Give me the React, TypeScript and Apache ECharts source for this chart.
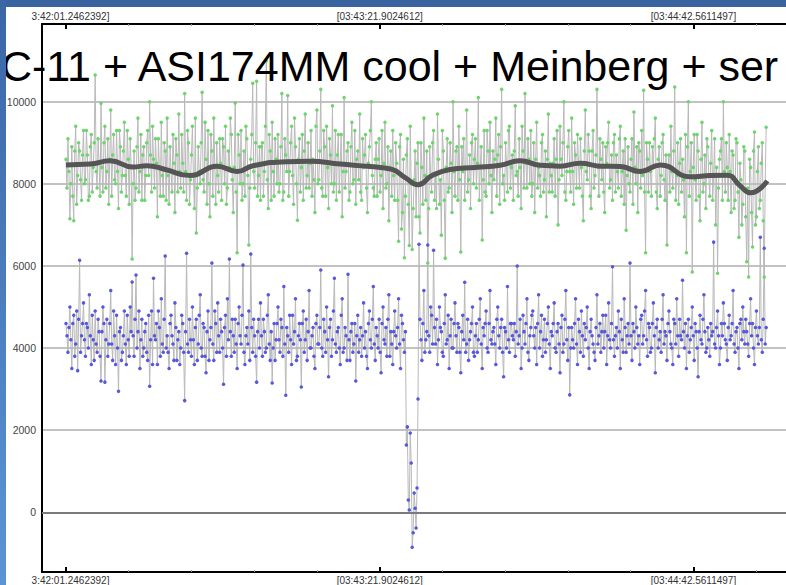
import React, { useEffect, useRef } from "react";
import * as echarts from "echarts";

// seconds between successive frames; t = 0 is 03:42:01.2462392
const DT = 0.25;

const TIME_LABELS = ["3:42:01.2462392]", "[03:43:21.9024612]", "[03:44:42.5611497]"];
const MAJOR_TICKS = [0, 80.6562, 161.3149];
const MINOR_TICKS = [16.1312, 32.2625, 48.3937, 64.525, 96.7875, 112.9187, 129.05, 145.1812, 177.4437];
const Y_TICKS = [0, 2000, 4000, 6000, 8000, 10000];

const TITLE = "C-11 + ASI174MM cool + Meinberg + ser";

// comparison (upper, green) star
const greenValues = [
  8600,7900, 9100,8300, 7150,8000, 8900,7700, 7100,8800, 9400,7500, 8200,9000, 8800,8100, 7600,8700, 9300,8000,
  8100,9300, 8700,7600, 7700,8900, 9200,7800, 8400,9000, 10650,8300, 7900,9100, 8500,7700, 9960,8400, 7800,9000,
  9400,7900, 8300,9100, 7500,8600, 9800,7700, 8700,9200, 8100,8000, 9300,8300, 7400,9300, 8900,7800, 8200,8800,
  9500,8200, 7700,9300, 8600,7500, 9100,8400, 6170,8000, 8800,7600, 7900,8900, 9600,7800, 8300,9200, 7600,8700,
  8900,7600, 8200,9000, 9300,8200, 10000,8700, 7800,9400, 8600,7900, 9100,8500, 7200,9100, 8400,7700, 9500,8200,
  7700,9000, 8800,7600, 9600,8200, 7500,8900, 8300,7800, 9200,8500, 7300,9100, 8700,7800, 9700,8300, 7900,9200,
  8500,7800, 10200,8300, 7600,9300, 9000,7500, 8100,8700, 9400,8200, 7400,9600, 6800,7900, 8900,8300, 8000,9000,
  10230,8100, 7800,9500, 8600,7500, 9300,8000, 7200,9200, 8800,7700, 9600,8400, 7500,9000, 8200,7800, 9100,8500,
  7600,9100, 8900,8000, 9400,7500, 7900,8800, 8400,9600, 9200,8100, 7300,8400, 9970,7800, 6320,9200, 8700,8000,
  9300,7600, 8000,8800, 7700,9400, 9100,8200, 6510,7900, 8600,9200, 10450,8300, 7900,9000, 10500,7700, 8200,8900,
  7600,8900, 9000,7700, 8300,9400, 11000,8100, 7400,9200, 8800,7600, 9500,8300, 7700,9100, 8600,8000, 9200,7800,
  8000,8900, 10200,7600, 7800,9100, 8700,8300, 10150,7700, 8300,9000, 9400,8200, 7500,9600, 8900,8000, 7110,8600,
  9100,7800, 8400,9200, 7600,8800, 9700,7900, 8200,9000, 7900,8500, 9300,7700, 8600,8100, 7300,9400, 9800,8000,
  8100,8800, 10300,7900, 7700,9300, 8900,7700, 9400,8400, 7400,9100, 8700,8000, 9900,7800, 8000,9300, 7600,8700,
  9200,7800, 8500,9200, 7200,8300, 10100,7900, 8300,8800, 9000,7600, 7800,8900, 9500,8000, 8100,9300, 7500,8600,
  8800,8100, 9700,7800, 7600,9100, 8400,8700, 9200,7900, 7300,8500, 8900,9300, 10000,8200, 7900,7700, 8600,9000,
  7700,8600, 9100,7800, 8200,9300, 7400,8500, 9500,7900, 8000,8900, 7100,8400, 8800,7700, 9300,8200, 7600,9000,
  8500,7600, 6600,8900, 9200,6900, 7300,8600, 6200,7700, 8700,9100, 7500,6500, 9400,8000, 6400,7400, 8100,8800,
  7200,8500, 9000,7200, 6800,9000, 8400,7500, 9600,8200, 7600,8800, 6070,7400, 8900,8200, 7800,9000, 9300,7600,
  8200,7400, 9700,8600, 7500,8100, 6750,9300, 8800,7600, 6190,8400, 9100,7800, 7900,9000, 8500,7300, 10000,8300,
  7700,8800, 8900,7600, 9400,8100, 6340,8900, 8300,9100, 7600,8400, 9800,7800, 8100,8700, 7400,9000, 9200,8000,
  8600,9100, 7900,8500, 10100,7600, 8400,8900, 6630,8100, 9300,7800, 7700,9300, 8800,8000, 9500,8200, 7300,8800,
  8100,8600, 9600,7700, 8700,9200, 7500,8900, 10300,8000, 8200,7600, 9000,8500, 7800,9300, 9400,7900, 8400,8700,
  7600,8800, 9900,8200, 8300,7700, 9100,8400, 7400,9400, 8800,7900, 10200,8500, 7900,9100, 8600,8000, 9300,7700,
  8000,9000, 7300,8600, 9500,7900, 8400,8200, 7700,9000, 9200,7800, 8100,8800, 7200,8600, 9700,7800, 8500,8200,
  7800,8500, 9100,7700, 8600,9300, 7000,8100, 9400,8600, 8200,9000, 10000,7800, 7600,8300, 8900,9300, 8300,7800,
  9600,8300, 7500,9000, 8700,7900, 9200,8500, 7900,9100, 8400,7700, 7100,8800, 9800,8300, 8100,9200, 8800,7700,
  7400,8800, 9300,7900, 8200,8700, 10300,8400, 7700,9100, 8600,8100, 9000,7800, 7300,8900, 8500,9000, 9500,7900,
  8100,8700, 7600,9000, 9200,7800, 8700,8300, 7900,9100, 9400,7700, 8300,8800, 7500,9100, 6870,8200, 8900,8000,
  7800,8600, 9100,7500, 9750,8400, 8000,8900, 7300,9000, 8800,7900, 9300,8200, 10280,7800, 6320,9000, 8600,7800,
  9000,8300, 7700,8900, 8400,9100, 9600,7800, 7400,8600, 8900,7700, 8200,9000, 9200,8100, 7600,8700, 6510,8400,
  8700,7800, 9400,8300, 7900,8800, 10360,7600, 8200,9000, 7500,8500, 9100,7800, 8600,8100, 7200,9200, 6320,8900,
  10000,7700, 8300,9000, 5850,8400, 9200,8100, 7600,9200, 8800,7700, 7100,8600, 9500,7800, 8000,8700, 7400,9100,
  8900,8200, 7700,8500, 9300,7600, 8200,9100, 7000,8400, 5820,7900, 8600,8800, 9100,7600, 10000,8300, 7800,9000,
  8400,7600, 9200,8300, 7300,8800, 8700,7400, 7600,9100, 9000,7800, 6700,8500, 8100,7000, 7500,8900, 8800,7200,
  6100,7900, 5730,8600, 8400,7300, 6460,8800, 9260,7000, 7200,8300, 8900,7400, 7600,8500, 9000,7100, 5730,8000, 9380,
];

// occulted target (lower, blue) star
const blueValues = [
  4600,4300, 3900,4500, 5000,4200, 3500,4600, 4800,3800, 4100,4900, 3450,4700, 6140,3900, 4300,4600, 5100,4200,
  3800,4600, 4500,4000, 5300,4300, 3600,4800, 4200,3700, 4900,4100, 3900,4700, 4400,3800, 3200,4400, 5000,4600,
  3170,4200, 4700,3800, 4100,4600, 5400,4100, 3700,4900, 4300,3600, 4800,4000, 2950,4400, 4500,3700, 3900,4300,
  4900,4100, 3600,4800, 4200,3800, 5000,4400, 5610,4300, 3800,4700, 5780,4000, 4400,4900, 3500,4200, 4700,3800,
  4000,4400, 4600,3900, 3700,4800, 3070,4200, 4900,3600, 5700,4300, 4200,4600, 3600,4900, 4500,3800, 5200,4100,
  3900,4700, 6240,4000, 4300,3900, 3500,4600, 4800,4300, 4100,3700, 5100,4500, 3700,4200, 4400,3600, 4000,4800,
  4600,3900, 2720,4400, 6310,4100, 3900,4700, 4200,3800, 5000,4200, 3600,4500, 4700,3700, 4100,4800, 5300,4000,
  3800,4600, 4500,3800, 3400,4400, 4900,3700, 4200,4500, 6070,4100, 3700,4900, 4600,3900, 5100,4300, 3900,4700,
  4400,4000, 3120,4500, 4800,3800, 5200,4200, 6170,4400, 3800,4700, 4300,3900, 4700,4100, 3500,4600, 5000,4300,
  4100,4800, 6020,3900, 3600,4300, 4500,4100, 4900,3700, 6290,4500, 3900,4700, 4300,3800, 3170,4400, 4700,4000,
  5100,4300, 3800,4700, 4400,3900, 4000,4800, 5300,4100, 3700,4400, 3150,4000, 4600,3700, 4200,4600, 5000,4200,
  3900,4700, 4500,3800, 5500,4100, 2850,4500, 4300,3900, 4800,4200, 3600,4800, 4100,4400, 5200,3700, 3800,4300,
  4600,4200, 3050,4600, 4900,3900, 4200,4700, 3700,4400, 5400,4000, 4000,4300, 4500,3800, 3500,4600, 4800,4100,
  4100,4500, 5900,4000, 3800,4700, 4400,3900, 5000,4200, 3300,4500, 4700,3800, 4200,4900, 5700,4100, 3900,4400,
  4500,4000, 3600,4800, 5200,3900, 4000,4500, 4300,3700, 5800,4200, 3700,4400, 4600,3900, 4100,4600, 3200,4300,
  4800,3900, 4200,4500, 3800,4300, 5100,4000, 4400,3800, 3500,4600, 4900,4200, 4000,4700, 5500,4100, 3700,4500,
  4300,4000, 4700,3900, 3400,4600, 5000,4200, 4100,4500, 3800,4700, 5300,3800, 4400,4100, 3600,4400, 4900,4300,
  4000,4500, 5200,4100, 3500,4800, 4600,4200, 3900,4400, 1640,2080, 300,55, 1930,1200, -850,-500, 470,100,
  -380,590, 2760,6530, 4700,4200, 3700,4600, 5400,3900, 4200,4400, 6510,4300, 3900,5000, 4800,4100, 6380,4500,
  4100,4700, 3600,4200, 5000,4500, 4400,3900, 3800,4600, 5300,4100, 4200,4800, 3500,4300, 4700,4000, 4000,4600,
  5100,4300, 3900,4600, 4500,3900, 3400,4400, 4800,4200, 5600,3900, 4100,4700, 3700,4200, 4400,4600, 5000,3900,
  3800,4300, 4600,3900, 4200,4700, 5200,4100, 3500,4500, 4300,4600, 4900,4000, 3900,4600, 5400,4200, 4100,4400,
  4500,4100, 3600,4700, 5000,4300, 4000,4500, 4700,3900, 3300,4500, 4400,4000, 5500,4200, 3900,4600, 4600,4300,
  4200,4600, 3800,4400, 6000,4100, 4300,4700, 3500,4000, 4800,4400, 4100,4600, 5200,3900, 3700,4300, 4500,4800,
  4900,4300, 4000,4500, 3600,4600, 5300,4000, 4400,4800, 3800,4200, 4700,3900, 4200,4600, 5000,4100, 3500,4400,
  4300,4600, 5100,4000, 3900,4400, 4600,4100, 3400,4500, 4800,3900, 4100,4700, 5400,4200, 3700,4500, 2860,4000,
  4500,4200, 4000,4600, 5200,4100, 3600,4700, 4400,3900, 4900,4300, 3800,4600, 4200,4500, 5000,4000, 3500,4400,
  4700,4300, 4100,3900, 3700,4500, 5300,4100, 4300,4600, 3900,4400, 4800,4000, 4400,4800, 3600,4300, 5100,4200,
  4000,4600, 5980,4200, 3800,4300, 4500,4000, 4900,4400, 3500,4700, 4200,3900, 5200,4500, 3900,4300, 4600,4100,
  6070,4300, 3700,4600, 4400,4000, 5000,4500, 4100,4300, 3600,4700, 4800,4100, 4300,4900, 5400,4200, 3800,4600,
  4500,3900, 4000,4600, 5100,4300, 3400,4500, 4700,4000, 4200,4400, 3900,4700, 5300,4100, 4400,4300, 3700,4600,
  4900,4400, 4100,4000, 3600,4700, 4600,4100, 5200,4300, 3800,4700, 4300,4200, 5650,4400, 4000,4600, 3500,4300,
  4700,3900, 4200,4500, 5000,4300, 3700,4600, 4400,4000, 3300,4400, 4800,4200, 4100,4700, 5300,4400, 3900,4000,
  4500,4200, 3800,4600, 4300,4400, 6580,4100, 4000,4500, 4900,4300, 3600,4000, 4600,4300, 5100,4600, 4200,4100,
  3700,4500, 4800,4200, 4300,4600, 5400,4100, 3900,4400, 4500,4000, 3500,4600, 4700,4200, 5000,4400, 4100,4700,
  4400,4100, 3800,4600, 5200,4300, 4600,4000, 3600,4500, 4900,4300, 4100,4500, 6700,4200, 3900,4700, 6430,4100, 4500,
];

// smoothed trend of the green star (time in s, value)
const trendTimes = [0, 6.2, 11.3, 17.2, 20.8, 25.5, 31.9, 38.8, 44.0, 48.1, 56.8, 62.7, 70.5, 78.2, 83.8, 87.2, 90.5, 94.1, 98.7, 105.2, 111.6, 116.7, 121.9, 127.0, 132.2, 137.3, 142.5, 147.6, 152.8, 160.5, 165.6, 170.0, 173.3, 176.0, 180.3];
const trendValues = [8460, 8480, 8560, 8410, 8440, 8350, 8200, 8430, 8300, 8440, 8540, 8550, 8480, 8420, 8350, 8150, 7980, 8200, 8350, 8400, 8450, 8560, 8450, 8430, 8500, 8430, 8420, 8300, 8460, 8170, 8200, 8210, 7950, 7780, 8070];

const X_MIN = -6.17;
const X_MAX = 188.7;
const Y_MIN = -1454;
const Y_MAX = 11892;

function labelFormatter(v: number) {
  const k = MAJOR_TICKS.findIndex((m) => Math.abs(m - v) < 0.01);
  if (k === 0) return "{a|" + TIME_LABELS[0] + "}";
  return k >= 0 ? TIME_LABELS[k] : "";
}

function makeXAxes(position: "top" | "bottom") {
  const common = {
    type: "value" as const,
    position,
    min: X_MIN,
    max: X_MAX,
    splitLine: { show: false },
  };
  return [
    {
      ...common,
      axisLine: { show: true, onZero: false, lineStyle: { color: "#000", width: 2 } },
      axisTick: { show: true, inside: true, length: 5, customValues: MAJOR_TICKS, lineStyle: { color: "#000", width: 2 } },
      axisLabel: {
        show: true,
        customValues: MAJOR_TICKS,
        formatter: labelFormatter,
        fontSize: 10,
        color: "#333",
        margin: 3,
        rich: { a: { fontSize: 10, color: "#333", padding: [0, 0, 0, 9] } },
      },
    },
    {
      ...common,
      axisLine: { show: false, onZero: false },
      axisTick: { show: true, inside: true, length: 2, customValues: MINOR_TICKS, lineStyle: { color: "#999", width: 1 } },
      axisLabel: { show: false },
    },
  ];
}

export default function App() {
  const ref = useRef<HTMLDivElement>(null);
  useEffect(() => {
    if (!ref.current) return;
    const chart = echarts.init(ref.current, undefined, { renderer: "svg" });
    const green = greenValues.map((v, i) => [i * DT, v]);
    const blue = blueValues.map((v, i) => [i * DT, v]);
    const trend = trendValues.map((v, i) => [trendTimes[i], v]);
    chart.setOption({
      animation: false,
      backgroundColor: "#fff",
      textStyle: { fontFamily: "Liberation Sans" },
      grid: { left: 42, right: 20, top: 24, bottom: 13, containLabel: false },
      xAxis: [...makeXAxes("bottom"), ...makeXAxes("top")],
      yAxis: {
        type: "value",
        min: Y_MIN,
        max: Y_MAX,
        axisLine: { show: true, onZero: false, lineStyle: { color: "#000", width: 2 } },
        axisTick: { show: false, customValues: Y_TICKS },
        axisLabel: { customValues: Y_TICKS, fontSize: 10.5, color: "#444", margin: 6, formatter: (v: number) => String(v) },
        splitLine: { show: true, lineStyle: { color: "#c2c2c2", width: 2 } },
      },
      series: [
        {
          type: "line",
          data: green,
          xAxisIndex: 0,
          symbol: "circle",
          symbolSize: 3.5,
          itemStyle: { color: "#6ed46e" },
          lineStyle: { color: "#b9b9b9", width: 1 },
          z: 2,
        },
        {
          type: "line",
          data: blue,
          xAxisIndex: 0,
          symbol: "circle",
          symbolSize: 3.5,
          itemStyle: { color: "#5858dc" },
          lineStyle: { color: "#b9b9b9", width: 1 },
          z: 2,
          markLine: {
            silent: true,
            symbol: "none",
            label: { show: false },
            lineStyle: { color: "#7a7a7a", width: 2, type: "solid" },
            data: [{ yAxis: 0 }],
          },
        },
        {
          type: "line",
          data: trend,
          xAxisIndex: 0,
          smooth: 0.5,
          showSymbol: false,
          lineStyle: { color: "#555", width: 5 },
          z: 5,
        },
      ],
      graphic: [
        {
          type: "text",
          z: 100,
          style: { text: TITLE, x: 1, y: 66, verticalAlign: "middle", font: '43px "Liberation Sans"', fill: "#000" },
        },
        {
          type: "rect",
          z: 110,
          shape: { x: 0, y: 0, width: 830, height: 7 },
          style: { fill: "#3a64a0" },
        },
        {
          type: "rect",
          z: 110,
          shape: { x: 0, y: 0, width: 6, height: 585 },
          style: {
            fill: new echarts.graphic.LinearGradient(0, 0, 0, 1, [
              { offset: 0, color: "#3b66a6" },
              { offset: 1, color: "#5b95d5" },
            ]),
          },
        },
      ],
    });
    return () => chart.dispose();
  }, []);
  return (
    <div style={{ position: "fixed", left: 0, top: 0, width: 786, height: 585, overflow: "hidden", background: "#fff" }}>
      <div ref={ref} style={{ width: 820, height: 585 }} />
    </div>
  );
}
